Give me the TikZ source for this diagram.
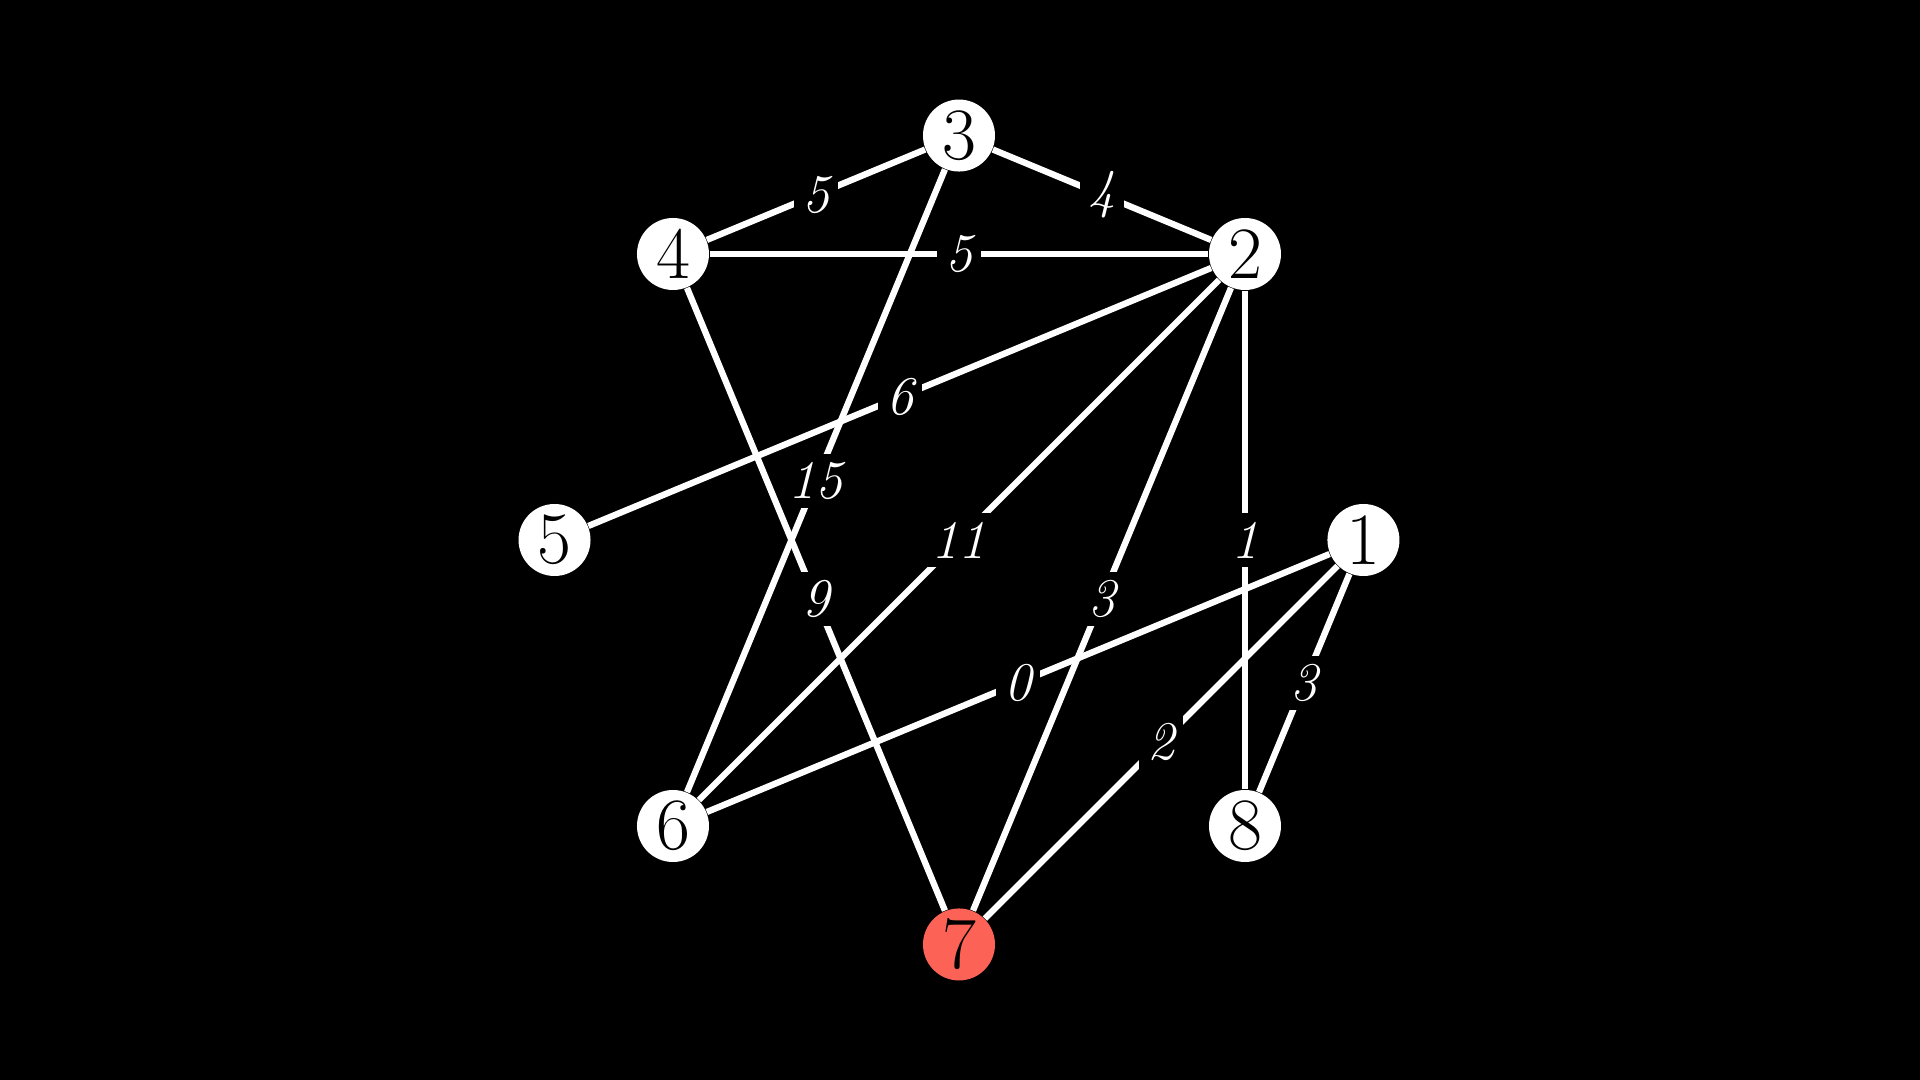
\documentclass[tikz,border=0pt]{standalone}
\usepackage{tikz}
\usepackage{amsmath}
\definecolor{vred}{HTML}{FC6255}

\begin{document}
\begin{tikzpicture}[scale=2.86,
    vtx/.style={circle,fill=white,text=black,minimum size=0.72cm,inner sep=0pt,
      font=\fontsize{21}{24}\selectfont},
    wlab/.style={fill=black,text=white,inner sep=2.4pt,
      font=\fontsize{15.5}{17}\selectfont\itshape}]
      \fill[black] (-3.3531,-1.8881) rectangle (3.3601,1.8881);
      \newcommand{\drawEdge}[3]{ \draw [white,line width=1.8pt] (v#1) --
        node[wlab,midway] {#3} (v#2); };
      \def\s{1.4142}
      \node[vtx] (v3) at (0,\s) {3};
      \node[vtx] (v4) at (-1,1) {4};
      \node[vtx] (v2) at (1,1) {2};
      \node[vtx] (v5) at (-\s,0) {5};
      \node[vtx] (v1) at (\s,0) {1};
      \node[vtx] (v6) at (-1,-1) {6};
      \node[vtx] (v8) at (1,-1) {8};
      \node[vtx,fill=vred] (v7) at (0,-\s) {7};
      % edges with weights
      \foreach \a/\b/\w in {3/4/5,3/2/4,4/2/5,3/6/15,4/7/9,2/5/6,
        2/6/11,2/7/3,2/8/1,1/6/0,1/7/2,1/8/3}
        {\drawEdge{\a}{\b}{\w}}
    \end{tikzpicture}
\end{document}
